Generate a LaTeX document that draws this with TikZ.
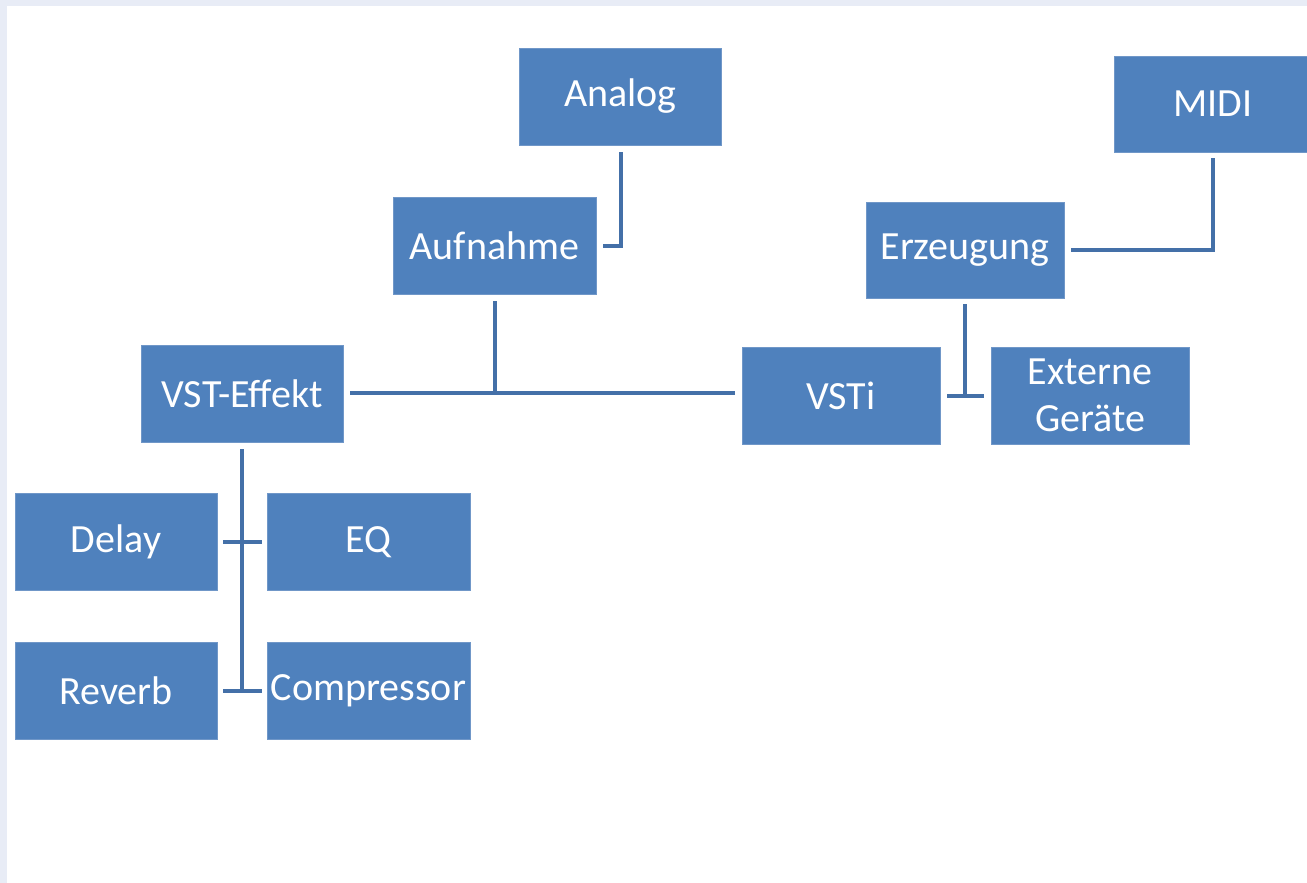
\documentclass[tikz,border=0pt]{standalone}
\usepackage{fontspec}
\setmainfont{Carlito}
\usetikzlibrary{calc}
\definecolor{boxblue}{HTML}{4F81BD}
\definecolor{boxedge}{HTML}{7097C8}
\definecolor{linkblue}{HTML}{4470A8}
\definecolor{bgband}{HTML}{E8ECF6}
\tikzset{
  box/.style={rectangle, fill=boxblue, draw=boxedge, line width=0.8pt, text=white,
    inner sep=0pt, minimum width=#1, minimum height=97pt, align=center,
    font=\fontsize{40}{47}\selectfont},
  box/.default=202pt,
  link/.style={draw=linkblue, line width=4pt}
}
\begin{document}
\begin{tikzpicture}[x=1pt,y=-1pt]
\useasboundingbox (0,0) rectangle (1307,883);
\fill[bgband] (0,0) rectangle (1307,883);
\fill[white] (7,6) rectangle (1307,883);
\begin{scope}
\clip (0,0) rectangle (1307,883);
\node[box] (analog) at (620.5,96.5) {Analog};
\node[box=203pt] (aufnahme) at (494.5,245.5) {Aufnahme};
\node[box] (vsteffekt) at (242,393.5) {VST-Effekt};
\node[box=198pt] (vsti) at (841,395.5) {VSTi};
\node[box=198pt] (externe) at (1090,395.5) {Externe\\Geräte};
\node[box=198pt,minimum height=96pt] (erzeugung) at (965,250) {Erzeugung};
\node[box=198pt,minimum height=96pt] (midi) at (1213,104) {MIDI};
\node[box] (delay) at (116,542) {Delay};
\node[box=203pt] (eq) at (368.5,542) {EQ};
\node[box] (reverb) at (116,690.5) {Reverb};
\node[box=203pt] (compressor) at (368.5,690.5) {Compressor};

\coordinate (aufTop) at ($(aufnahme.south)+(0,7)$);
\coordinate (erzTop) at ($(erzeugung.south)+(0,6)$);
\coordinate (vstTop) at ($(vsteffekt.south)+(0,7)$);
\coordinate (busL) at ($(vsteffekt.east)+(7,-0.5)$);
\coordinate (busR) at ($(vsti.west)+(-7,-2.5)$);

\draw[link] ($(analog.south)+(0,7)$) |- ($(aufnahme.east)+(7,0)$);
\draw[link] ($(midi.south)+(0,6)$) |- ($(erzeugung.east)+(7,0)$);
\draw[link] (busL) -- (busR);
\draw[link] (aufTop) -- (aufTop |- busL);
\draw[link] (erzTop) -- (erzTop |- vsti.east);
\draw[link] ($(vsti.east)+(7,0)$) -- ($(externe.west)+(-7,0)$);
\draw[link] (vstTop) -- (vstTop |- reverb.east);
\draw[link] ($(delay.east)+(6,0)$) -- ($(eq.west)+(-5,0)$);
\draw[link] ($(reverb.east)+(6,0)$) -- ($(compressor.west)+(-5,0)$);
\end{scope}
\end{tikzpicture}
\end{document}
